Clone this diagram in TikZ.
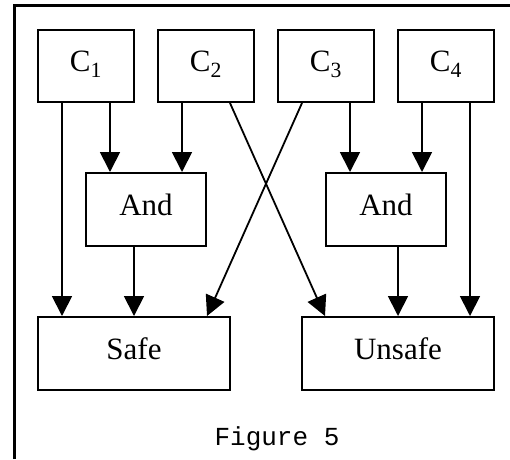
\documentclass[tikz,border=0pt]{standalone}
\usepackage{fontspec}
\setmainfont{Liberation Serif}
\newfontfamily\figmono{Liberation Mono}
\usetikzlibrary{arrows.meta}
\tikzset{
  box/.style={draw, line width=2pt, inner sep=0pt, text height=22pt, text depth=11pt, font=\fontsize{31}{35}\selectfont},
  conn/.style={line width=1.8pt, -{Triangle[length=20pt,width=20pt]}},
}
\begin{document}
\begin{tikzpicture}[x=1pt,y=-1pt]
\useasboundingbox (0,0) rectangle (510,459);
\draw[line width=3pt] (14.5,459) -- (14.5,5.5) -- (510,5.5);
% top row
\node[box, minimum width=96pt, minimum height=72pt] (c1) at (86,66) {C\textsubscript{1}};
\node[box, minimum width=96pt, minimum height=72pt] (c2) at (206,66) {C\textsubscript{2}};
\node[box, minimum width=96pt, minimum height=72pt] (c3) at (326,66) {C\textsubscript{3}};
\node[box, minimum width=96pt, minimum height=72pt] (c4) at (446,66) {C\textsubscript{4}};
% and gates
\node[box, minimum width=120pt, minimum height=73pt] (and1) at (146,209.5) {And};
\node[box, minimum width=120pt, minimum height=73pt] (and2) at (386,209.5) {And};
% outputs
\node[box, minimum width=192pt, minimum height=73pt] (safe) at (134,353.5) {Safe};
\node[box, minimum width=192pt, minimum height=73pt] (unsafe) at (398,353.5) {Unsafe};
% connectors
\draw[conn] (c1.south -| 62,0) -- (safe.north -| 62,0);
\draw[conn] (c1.south -| 110,0) -- (and1.north -| 110,0);
\draw[conn] (c2.south -| 182,0) -- (and1.north -| 182,0);
\draw[conn] (c2.south -| 230,0) -- (unsafe.north -| 325,0);
\draw[conn] (c3.south -| 302,0) -- (safe.north -| 207,0);
\draw[conn] (c3.south -| 350,0) -- (and2.north -| 350,0);
\draw[conn] (c4.south -| 422,0) -- (and2.north -| 422,0);
\draw[conn] (c4.south -| 470,0) -- (unsafe.north -| 470,0);
\draw[conn] (and1.south -| 134,0) -- (safe.north -| 134,0);
\draw[conn] (and2.south -| 398,0) -- (unsafe.north -| 398,0);
\node[font=\figmono\fontsize{26}{30}\selectfont, anchor=base] (cap) at (277,445) {Figure 5};
\end{tikzpicture}
\end{document}
